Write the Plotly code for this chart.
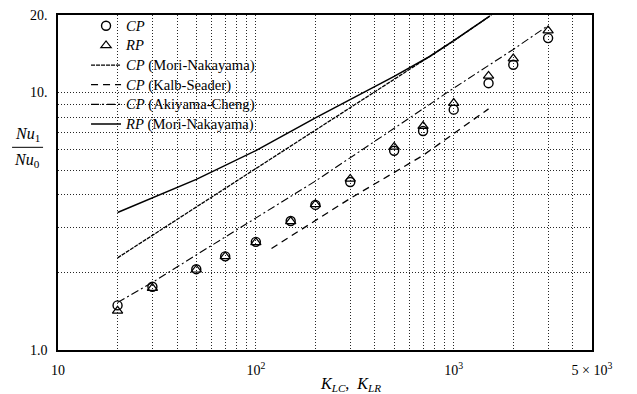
import plotly.graph_objects as go

# ---- data ----
K_exp = [20, 30, 50, 70, 100, 150, 200, 300, 500, 700, 1000, 1500, 2000, 3000]
cp_exp = [1.49, 1.76, 2.06, 2.31, 2.63, 3.17, 3.66, 4.49, 5.94, 7.09, 8.58, 10.87, 12.82, 16.27]
rp_exp = [1.42, 1.74, 2.05, 2.31, 2.62, 3.16, 3.68, 4.62, 6.15, 7.41, 9.10, 11.6, 13.55, 17.4]

K_mn_cp = [20, 50, 100, 200, 500, 1000, 1550]
cp_mn = [2.28, 3.59, 5.06, 7.14, 11.25, 15.87, 20.0]

K_ks = [120, 300, 700, 1500]
cp_ks = [2.48, 3.88, 5.70, 8.64]

K_ac = [20, 30, 50, 100, 200, 500, 1000, 2000, 3000]
cp_ac = [1.53, 1.83, 2.34, 3.26, 4.53, 7.26, 10.4, 14.7, 18.2]

K_mn_rp = [20, 30, 50, 100, 200, 500, 756, 1000, 1520]
rp_mn = [3.42, 3.90, 4.60, 5.95, 7.97, 11.55, 13.8, 15.9, 19.8]

x_grid = [10, 20, 30, 40, 50, 60, 70, 80, 90, 100, 200, 300, 400, 500, 600, 700,
          800, 900, 1000, 2000, 3000, 4000, 5000]
x_labels = {10: "10", 100: "10<sup>2</sup>", 1000: "10<sup>3</sup>", 5000: "5 × 10<sup>3</sup>"}
y_grid = [1, 2, 3, 4, 5, 6, 7, 8, 9, 10, 20]
y_labels = {1: "1.0", 10: "10.", 20: "20."}

legend_names = ["<i>CP</i>", "<i>RP</i>", "<i>CP</i> (Mori-Nakayama)", "<i>CP</i> (Kalb-Seader)",
                "<i>CP</i> (Akiyama-Cheng)", "<i>RP</i> (Mori-Nakayama)"]

FONT = "Liberation Serif, DejaVu Serif, serif"


def nm(i):
    return '<span style="font-size:14.6px">' + legend_names[i] + "</span>"


fig = go.Figure()

fig.add_trace(go.Scatter(x=K_mn_cp, y=cp_mn, mode="lines", name=nm(2),
                         line=dict(color="black", width=1.3, dash="4px,1px"), legendrank=3))
fig.add_trace(go.Scatter(x=K_ks, y=cp_ks, mode="lines", name=nm(3),
                         line=dict(color="black", width=1.3, dash="7px,5px"), legendrank=4))
fig.add_trace(go.Scatter(x=K_ac, y=cp_ac, mode="lines", name=nm(4),
                         line=dict(color="black", width=1.1, dash="8px,3px,2px,3px"), legendrank=5))
fig.add_trace(go.Scatter(x=K_mn_rp, y=rp_mn, mode="lines", name=nm(5),
                         line=dict(color="black", width=1.5), legendrank=6))
fig.add_trace(go.Scatter(x=K_exp, y=cp_exp, mode="markers", name=nm(0),
                         marker=dict(symbol="circle-open", size=9, color="black",
                                     line=dict(width=1.4, color="black")), legendrank=1))
fig.add_trace(go.Scatter(x=K_exp, y=rp_exp, mode="markers", name=nm(1),
                         marker=dict(symbol="triangle-up-open", size=9, color="black",
                                     line=dict(width=1.2, color="black")), legendrank=2))

fig.update_layout(
    width=637, height=394,
    margin=dict(l=58, r=45, t=11, b=44),
    paper_bgcolor="white", plot_bgcolor="white",
    font=dict(family=FONT, size=14, color="black"),
    showlegend=True,
    legend=dict(x=0.0525, y=1.012, xanchor="left", yanchor="top",
                bgcolor="rgba(0,0,0,0)", borderwidth=0, tracegroupgap=0,
                font=dict(family=FONT, size=12.8, color="black"), itemwidth=30),
    xaxis=dict(type="log", range=[1, 3.69897], showline=True, mirror=True, automargin=False,
               linecolor="black", linewidth=1.5, ticks="",
               tickvals=x_grid, ticktext=[x_labels.get(v, "") for v in x_grid],
               showgrid=True, gridcolor="rgba(0,0,0,0.85)", gridwidth=1, griddash="1px,2px",
               zeroline=False, tickfont=dict(size=14), ticklabelstandoff=6),
    yaxis=dict(type="log", range=[0, 1.30103], showline=True, mirror=True, automargin=False,
               linecolor="black", linewidth=1.5, ticks="",
               tickvals=y_grid, ticktext=[y_labels.get(v, "") for v in y_grid],
               showgrid=True, gridcolor="rgba(0,0,0,0.85)", gridwidth=1, griddash="1px,2px",
               zeroline=False, tickfont=dict(size=14), ticklabelstandoff=6),
)

# white panel behind the legend (hides the grid there, keeps the frame)
fig.add_shape(type="rect", xref="paper", yref="paper", x0=0.032, x1=0.384, y0=0.64, y1=0.991,
              fillcolor="white", line=dict(width=0), layer="between")

# axis titles
fig.add_annotation(xref="paper", yref="paper", x=0.547, y=-0.103, yanchor="middle",
                   text="<i>K<sub>LC</sub></i>,  <i>K<sub>LR</sub></i>", showarrow=False,
                   font=dict(family=FONT, size=16))
fig.add_annotation(xref="paper", yref="paper", x=-0.058, y=0.609, xanchor="center", yanchor="bottom",
                   text="<i>Nu</i><sub>1</sub>", showarrow=False, font=dict(family=FONT, size=16))
fig.add_annotation(xref="paper", yref="paper", x=-0.058, y=0.601, xanchor="center", yanchor="top",
                   text="<i>Nu</i><sub>0</sub>", showarrow=False, font=dict(family=FONT, size=16))
fig.add_shape(type="line", xref="paper", yref="paper", x0=-0.086, x1=-0.028, y0=0.605, y1=0.605,
              line=dict(color="black", width=1))

fig.write_html("out.html")
